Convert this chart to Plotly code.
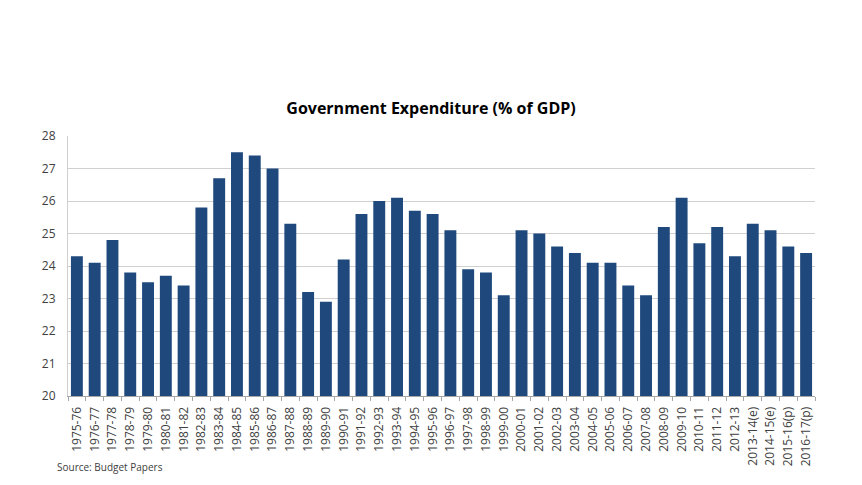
import plotly.graph_objects as go

years = ["1975-76","1976-77","1977-78","1978-79","1979-80","1980-81","1981-82","1982-83",
         "1983-84","1984-85","1985-86","1986-87","1987-88","1988-89","1989-90","1990-91",
         "1991-92","1992-93","1993-94","1994-95","1995-96","1996-97","1997-98","1998-99",
         "1999-00","2000-01","2001-02","2002-03","2003-04","2004-05","2005-06","2006-07",
         "2007-08","2008-09","2009-10","2010-11","2011-12","2012-13","2013-14(e)",
         "2014-15(e)","2015-16(p)","2016-17(p)"]
expenditure = [24.3, 24.1, 24.8, 23.8, 23.5, 23.7, 23.4, 25.8, 26.7, 27.5, 27.4, 27.0,
               25.3, 23.2, 22.9, 24.2, 25.6, 26.0, 26.1, 25.7, 25.6, 25.1, 23.9, 23.8,
               23.1, 25.1, 25.0, 24.6, 24.4, 24.1, 24.1, 23.4, 23.1, 25.2, 26.1, 24.7,
               25.2, 24.3, 25.3, 25.1, 24.6, 24.4]
y_ticks = [20, 21, 22, 23, 24, 25, 26, 27, 28]

# page body has an 8px margin, so the figure is laid out in shifted coordinates
OFF = 8
W, H = 862 - 2 * OFF, 485 - 2 * OFF
L = 68 - OFF
R = W - (815 - OFF)
T = 136 - OFF
B = H - (396 - OFF)

fig = go.Figure(go.Bar(x=years, y=expenditure, marker_color="#1F497D",
                       marker_line_width=0))

fig.update_layout(
    width=W, height=H,
    margin=dict(l=L, r=R, t=T, b=B),
    paper_bgcolor="white", plot_bgcolor="white",
    bargap=0.33,
    showlegend=False,
    font=dict(family="Open Sans, Liberation Sans, sans-serif", color="#404040", size=11),
    title=dict(text="<b>Government Expenditure (% of GDP)</b>",
               x=0.5, xanchor="center", y=1 - (108 - OFF) / H, yanchor="middle",
               font=dict(size=16, color="#000000")),
    xaxis=dict(type="category", tickangle=-90, showgrid=False, showline=True,
               linecolor="#A6A6A6", ticks="outside", ticklen=4, tickcolor="#A6A6A6",
               tickson="boundaries", ticklabelstandoff=5,
               tickfont=dict(size=12, color="#404040")),
    yaxis=dict(range=[20, 28], tickvals=y_ticks, showgrid=True, gridcolor="#D0D0D0",
               gridwidth=1, showline=True, linecolor="#D0D0D0", zeroline=False,
               ticks="", ticklabelstandoff=9,
               tickfont=dict(size=12, color="#404040")),
    annotations=[dict(text="Source: Budget Papers", xref="paper", yref="paper",
                      x=-(L - (55 - OFF)) / (W - L - R),
                      y=-((467 - OFF) - (H - B)) / (H - T - B),
                      xanchor="left", yanchor="middle", showarrow=False,
                      font=dict(size=10, color="#404040"))],
)

fig.write_html("out.html")
